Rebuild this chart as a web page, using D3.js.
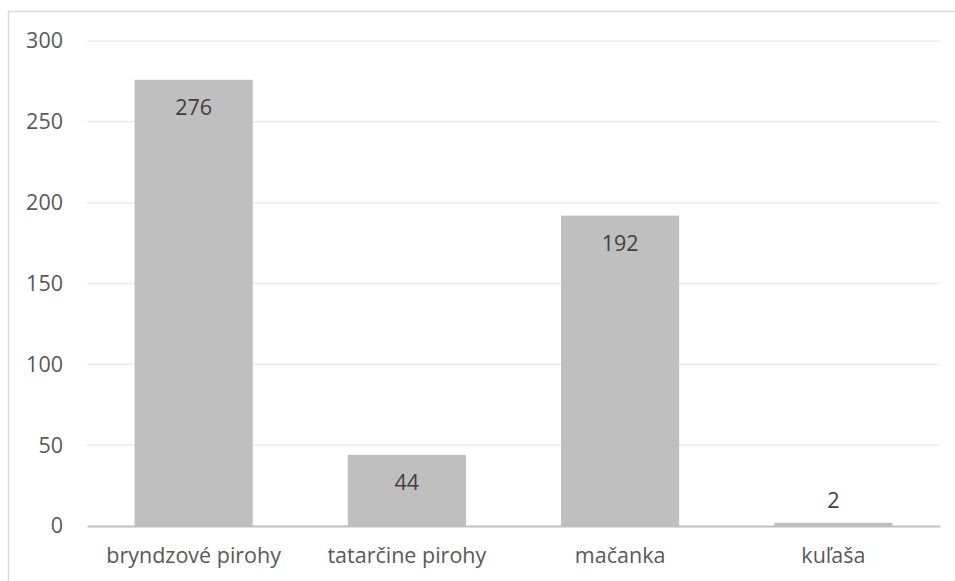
<!DOCTYPE html>
<html>
<head>
<meta charset="utf-8">
<script src="https://cdn.jsdelivr.net/npm/d3@7"></script>
<style>
  body { margin: 0; background: #fff; }
  svg text { font-family: "Open Sans", sans-serif; }
</style>
</head>
<body>
<div id="chart"></div>
<script>
var categories = ["bryndzové pirohy", "tatarčine pirohy", "mačanka", "kuľaša"];
var values = [276, 44, 192, 2];
var yTicks = [0, 50, 100, 150, 200, 250, 300];

var W = 955, H = 581;
var margin = {top: 41, right: 15, bottom: 55, left: 87};
var width = W - margin.left - margin.right;
var height = H - margin.top - margin.bottom;
var fontSize = "21.5px";

var svg = d3.select("#chart")
    .append("svg")
    .attr("width", W)
    .attr("height", H);

// chart frame
svg.append("rect")
    .attr("x", 8.5)
    .attr("y", 11.5)
    .attr("width", W + 10)
    .attr("height", H + 10)
    .attr("fill", "none")
    .attr("stroke", "#d9d9d9")
    .attr("stroke-width", 1.5);

var g = svg.append("g")
    .attr("transform", "translate(" + margin.left + "," + margin.top + ")");

var x = d3.scaleBand()
    .domain(categories)
    .range([0, width])
    .paddingInner(0.446)
    .paddingOuter(0.223);

var y = d3.scaleLinear()
    .domain([0, 300])
    .range([height, 0]);

// gridlines
g.selectAll(".grid")
    .data(yTicks.filter(function(d) { return d > 0; }))
    .enter()
    .append("line")
    .attr("x1", 0)
    .attr("x2", width)
    .attr("y1", function(d) { return y(d); })
    .attr("y2", function(d) { return y(d); })
    .attr("stroke", "#ececec")
    .attr("stroke-width", 1.5);

// y axis labels
var yAxis = g.append("g")
    .call(d3.axisLeft(y).tickValues(yTicks).tickSize(0).tickPadding(24));
yAxis.select(".domain").remove();
yAxis.selectAll("text")
    .attr("fill", "#595959")
    .style("font-size", fontSize);

// bars
g.selectAll(".bar")
    .data(values)
    .enter()
    .append("rect")
    .attr("x", function(d, i) { return x(categories[i]); })
    .attr("y", function(d) { return y(d); })
    .attr("width", x.bandwidth())
    .attr("height", function(d) { return height - y(d); })
    .attr("fill", "#bfbfbf");

// x axis
var xAxis = g.append("g")
    .attr("transform", "translate(0," + height + ")")
    .call(d3.axisBottom(x).tickSize(0).tickPadding(22));
xAxis.select(".domain")
    .attr("stroke", "#bfbfbf")
    .attr("stroke-width", 2);
xAxis.selectAll("text")
    .attr("fill", "#595959")
    .style("font-size", fontSize);

// value labels
g.selectAll(".label")
    .data(values)
    .enter()
    .append("text")
    .attr("x", function(d, i) { return x(categories[i]) + x.bandwidth() / 2; })
    .attr("y", function(d) {
        return (height - y(d)) < 40 ? y(d) - 22 : y(d) + 28;
    })
    .attr("dy", "0.35em")
    .attr("text-anchor", "middle")
    .attr("fill", "#404040")
    .style("font-size", fontSize)
    .text(function(d) { return d; });
</script>
</body>
</html>
